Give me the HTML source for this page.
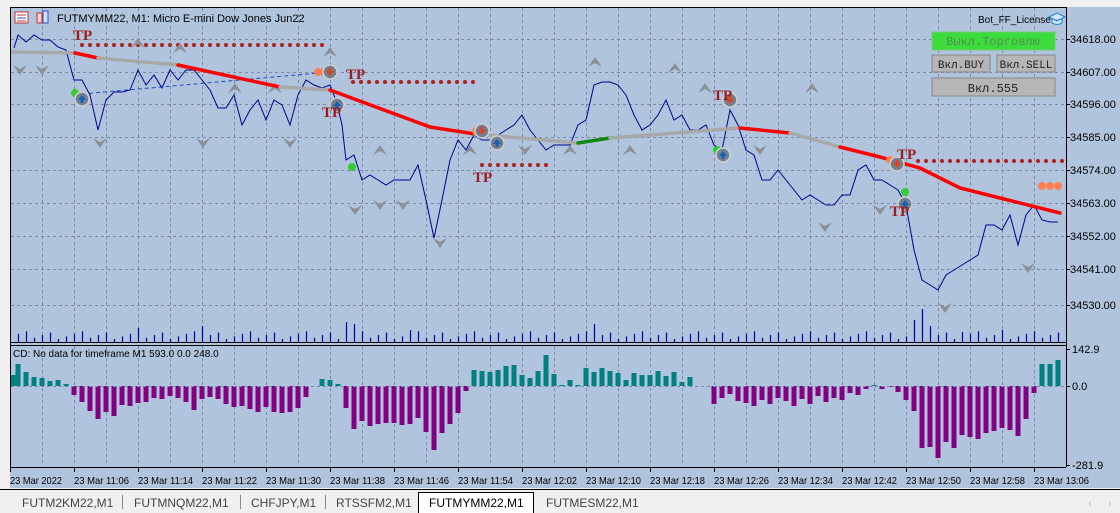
<!DOCTYPE html>
<html><head><meta charset="utf-8"><style>
html,body{margin:0;padding:0;width:1120px;height:513px;overflow:hidden;background:#f0f0f0}
svg{display:block}
text{font-family:"Liberation Sans",sans-serif;font-size:11px;fill:#000}
.t{font-size:10.5px}
</style></head><body>
<svg id="s" width="1120" height="513" xmlns="http://www.w3.org/2000/svg">
<rect x="0" y="0" width="1120" height="490" fill="#f0f0f0"/>
<rect x="10" y="7" width="1110" height="481" fill="#b0c4de"/>
<g id="grid" stroke="#7d8aa0" stroke-width="1" stroke-dasharray="3,3"></g>
<g id="vol" stroke="#0000b0" stroke-width="1.2"></g>
<g id="hist"></g>
<g id="mk"></g>
<g stroke="#000" fill="none" stroke-width="1">
<line x1="10.5" y1="7" x2="10.5" y2="467"/>
<line x1="10" y1="7.5" x2="1066" y2="7.5"/>
<line x1="1066.5" y1="7" x2="1066.5" y2="467"/>
<line x1="10" y1="342.5" x2="1066" y2="342.5"/>
<line x1="10" y1="345.5" x2="1066" y2="345.5"/>
<line x1="10" y1="467.5" x2="1066" y2="467.5"/>
</g>
<g id="ticks" stroke="#000"></g>
<text x="1070" y="43">34618.00</text>
<text x="1070" y="76">34607.00</text>
<text x="1070" y="108">34596.00</text>
<text x="1070" y="141">34585.00</text>
<text x="1070" y="174">34574.00</text>
<text x="1070" y="207">34563.00</text>
<text x="1070" y="240">34552.00</text>
<text x="1070" y="273">34541.00</text>
<text x="1070" y="309">34530.00</text>
<text x="1072" y="353">142.9</text>
<text x="1072" y="390">0.0</text>
<text x="1072" y="469">-281.9</text>
<g>
<text class="t" x="10" y="484" textLength="52" lengthAdjust="spacingAndGlyphs">23 Mar 2022</text>
<text class="t" x="74" y="484" textLength="55" lengthAdjust="spacingAndGlyphs">23 Mar 11:06</text>
<text class="t" x="138" y="484" textLength="55" lengthAdjust="spacingAndGlyphs">23 Mar 11:14</text>
<text class="t" x="202" y="484" textLength="55" lengthAdjust="spacingAndGlyphs">23 Mar 11:22</text>
<text class="t" x="266" y="484" textLength="55" lengthAdjust="spacingAndGlyphs">23 Mar 11:30</text>
<text class="t" x="330" y="484" textLength="55" lengthAdjust="spacingAndGlyphs">23 Mar 11:38</text>
<text class="t" x="394" y="484" textLength="55" lengthAdjust="spacingAndGlyphs">23 Mar 11:46</text>
<text class="t" x="458" y="484" textLength="55" lengthAdjust="spacingAndGlyphs">23 Mar 11:54</text>
<text class="t" x="522" y="484" textLength="55" lengthAdjust="spacingAndGlyphs">23 Mar 12:02</text>
<text class="t" x="586" y="484" textLength="55" lengthAdjust="spacingAndGlyphs">23 Mar 12:10</text>
<text class="t" x="650" y="484" textLength="55" lengthAdjust="spacingAndGlyphs">23 Mar 12:18</text>
<text class="t" x="714" y="484" textLength="55" lengthAdjust="spacingAndGlyphs">23 Mar 12:26</text>
<text class="t" x="778" y="484" textLength="55" lengthAdjust="spacingAndGlyphs">23 Mar 12:34</text>
<text class="t" x="842" y="484" textLength="55" lengthAdjust="spacingAndGlyphs">23 Mar 12:42</text>
<text class="t" x="906" y="484" textLength="55" lengthAdjust="spacingAndGlyphs">23 Mar 12:50</text>
<text class="t" x="970" y="484" textLength="55" lengthAdjust="spacingAndGlyphs">23 Mar 12:58</text>
<text class="t" x="1034" y="484" textLength="55" lengthAdjust="spacingAndGlyphs">23 Mar 13:06</text>
</g>
<rect x="15" y="12" width="13" height="11" fill="#fff" stroke="#c03030"/>
<line x1="17" y1="15" x2="26" y2="15" stroke="#c03030"/><line x1="17" y1="18" x2="26" y2="18" stroke="#3050c0"/><line x1="17" y1="21" x2="26" y2="21" stroke="#c03030"/>
<rect x="37" y="13" width="5" height="10" fill="#f8d0d0" stroke="#c03030"/><rect x="43" y="11" width="5" height="12" fill="#d0e0f8" stroke="#3050c0"/>
<text x="57" y="22">FUTMYMM22, M1:  Micro E-mini Dow Jones Jun22</text>
<text x="978" y="23" style="font-size:10px">Bot_FF_License</text>
<path d="M1049 17 l8 -4 l8 4 l-8 4z M1052 19 v4 q5 3 10 0 v-4" fill="#cfe6ff" stroke="#1a80d0"/>
<text x="13" y="357" style="font-size:10px">CD: No data for timeframe M1 593.0 0.0 248.0</text>
<rect x="932" y="32" width="123" height="18" fill="#3ddc3d" stroke="#7cc87c"/>
<text x="993" y="45" text-anchor="middle" style="font-family:'Liberation Mono','DejaVu Sans Mono',monospace;font-size:12px;fill:#4f8f4f">Выкл.Торговлю</text>
<rect x="932" y="55" width="58" height="17" fill="#b6b6b6" stroke="#888"/>
<text x="961" y="68" text-anchor="middle" style="font-family:'Liberation Mono',monospace;font-size:11px;fill:#222">Вкл.BUY</text>
<rect x="997" y="55" width="58" height="17" fill="#b6b6b6" stroke="#888"/>
<text x="1026" y="68" text-anchor="middle" style="font-family:'Liberation Mono',monospace;font-size:11px;fill:#222">Вкл.SELL</text>
<rect x="932" y="78" width="123" height="18" fill="#b6b6b6" stroke="#888"/>
<text x="993" y="92" text-anchor="middle" style="font-family:'Liberation Mono',monospace;font-size:12px;fill:#222">Вкл.555</text>
<g>
<text x="73" y="40" style="fill:#9b1c1c;font-family:'Liberation Serif',serif;font-weight:bold;font-size:15px">TP</text>
<text x="346" y="79" style="fill:#9b1c1c;font-family:'Liberation Serif',serif;font-weight:bold;font-size:15px">TP</text>
<text x="322" y="117" style="fill:#9b1c1c;font-family:'Liberation Serif',serif;font-weight:bold;font-size:15px">TP</text>
<text x="473" y="182" style="fill:#9b1c1c;font-family:'Liberation Serif',serif;font-weight:bold;font-size:15px">TP</text>
<text x="713" y="100" style="fill:#9b1c1c;font-family:'Liberation Serif',serif;font-weight:bold;font-size:15px">TP</text>
<text x="897" y="159" style="fill:#9b1c1c;font-family:'Liberation Serif',serif;font-weight:bold;font-size:15px">TP</text>
<text x="890" y="216" style="fill:#9b1c1c;font-family:'Liberation Serif',serif;font-weight:bold;font-size:15px">TP</text>
</g>
<rect x="0" y="489" width="1120" height="24" fill="#f0f0f0"/>
<line x1="0" y1="489.5" x2="1120" y2="489.5" stroke="#000"/>
<g>
<text x="22" y="507" style="font-size:12px;fill:#444">FUTM2KM22,M1</text>
<text x="134" y="507" style="font-size:12px;fill:#444">FUTMNQM22,M1</text>
<text x="251" y="507" style="font-size:12px;fill:#444">CHFJPY,M1</text>
<text x="336" y="507" style="font-size:12px;fill:#444">RTSSFM2,M1</text>
<text x="546" y="507" style="font-size:12px;fill:#444">FUTMESM22,M1</text>
</g>
<g stroke="#888"><line x1="122.5" y1="495" x2="122.5" y2="509"/><line x1="240.5" y1="495" x2="240.5" y2="509"/><line x1="325.5" y1="495" x2="325.5" y2="509"/></g>
<path d="M418.5 513 V492.5 H533.5 V513" fill="#fff" stroke="#000"/>
<text x="429" y="507" style="font-size:12px;fill:#000">FUTMYMM22,M1</text>
<text x="1088" y="507" style="fill:#bbb">‹</text><text x="1108" y="507" style="fill:#bbb">›</text>
</svg>
<script>
var NS="http://www.w3.org/2000/svg",S=document.getElementById('s');
function el(p,t,a){var e=document.createElementNS(NS,t);for(var k in a)e.setAttribute(k,a[k]);p.appendChild(e);return e;}
var G=document.getElementById('grid');
for(var x=42;x<1066;x+=32){el(G,'line',{x1:x+.5,y1:8,x2:x+.5,y2:342});el(G,'line',{x1:x+.5,y1:346,x2:x+.5,y2:467});}
[39,72,104,137,170,203,236,269,305].forEach(function(y){el(G,'line',{x1:11,y1:y+.5,x2:1066,y2:y+.5});});
var T=document.getElementById('ticks');
[39,72,104,137,170,203,236,269,305,349,386,465].forEach(function(y){el(T,'line',{x1:1066,y1:y+.5,x2:1070,y2:y+.5});});
for(var x=10;x<1066;x+=64)el(T,'line',{x1:x+.5,y1:467,x2:x+.5,y2:472});
var V=document.getElementById('vol'),spk={138:14,202:16,346:20,354:18,410:12,594:18,914:22,922:33,930:16,962:10,1002:12};
for(var i=2;i<=132;i++){var x=2+8*i;var h=spk[x]||(3+((i*37)%7)*1.3);el(V,'line',{x1:x+.5,y1:342,x2:x+.5,y2:342-h});}
var H=document.getElementById('hist');
var hv={13:11,18:22,26:14,34:9,42:8,50:5,58:6,66:2};
var neg1=[9,16,25,33,26,30,19,20,17,16,12,13,10,12,16,24,13,11,13,18,21,20,23,26,21,26,27,26,22,11];
neg1.forEach(function(d,j){hv[74+8*j]=-d;});
Object.assign(hv,{314:0,322:7,330:6,338:2,346:-22,354:-43,362:-35,370:-40,378:-38,386:-37,394:-37,402:-39,410:-38,418:-32,426:-46,434:-64,442:-47,450:-38,458:-27,466:-5,
474:16,482:15,490:14,498:16,506:20,514:21,522:11,530:8,538:15,546:31,554:12,562:1,570:6,578:1,586:18,594:14,602:18,610:15,618:13,626:6,634:13,642:11,650:11,658:15,666:10,674:14,682:4,690:9,698:0,706:0,
714:-18,722:-12,730:-8,738:-15,746:-17,754:-20,762:-14,770:-18,778:-12,786:-15,794:-20,802:-13,810:-18,818:-10,826:-16,834:-12,842:-14,850:-7,858:-9,866:-3,874:1,882:-3,890:-1,898:-6,906:-14,914:-25,922:-62,930:-61,938:-72,946:-56,954:-62,962:-49,970:-51,978:-53,986:-47,994:-45,1002:-42,1010:-44,1018:-50,1026:-33,1034:-7,1042:22,1050:22,1058:26});
for(var k in hv){var v=hv[k],x=+k;if(v>0)el(H,'rect',{x:x-2.5,y:386-v,width:5,height:v,fill:'#008080'});else if(v<0)el(H,'rect',{x:x-2.5,y:386,width:5,height:-v,fill:'#800080'});}
el(H,'line',{x1:11,y1:386.5,x2:1066,y2:386.5,stroke:'#7d8aa0','stroke-dasharray':'3,3'});
var M=document.getElementById('mk');
function dots(x1,x2,y){for(var x=x1;x<=x2;x+=8)el(M,'circle',{cx:x,cy:y,r:2,fill:'#b02020'});}
dots(82,325,45);dots(353,477,82);dots(482,548,165);dots(918,1062,161);
function chev(x,y,up){var d=up?'M'+(x-7)+' '+(y+5)+' L'+x+' '+(y-5)+' L'+(x+7)+' '+(y+5)+' L'+x+' '+(y+1)+'Z':'M'+(x-7)+' '+(y-5)+' L'+x+' '+(y+5)+' L'+(x+7)+' '+(y-5)+' L'+x+' '+(y-1)+'Z';el(M,'path',{d:d,fill:'#8a8f98'});}
[[138,43],[180,48],[330,52],[235,88],[275,88],[595,62],[675,68],[1040,68],[380,150],[470,150],[570,150],[630,150],[812,88],[705,88]].forEach(function(p){chev(p[0],p[1],true);});
[[20,70],[42,70],[100,143],[203,143],[290,143],[355,210],[380,205],[403,205],[440,243],[525,150],[825,227],[945,308],[1028,268],[880,210],[760,150]].forEach(function(p){chev(p[0],p[1],false);});
el(M,'line',{x1:82,y1:94,x2:330,y2:72,stroke:'#1f4fbf','stroke-dasharray':'4,3'});
var P=[14,48,18,35,26,42,34,35,42,40,50,40,58,47,66,50,74,80,82,80,90,95,98,130,106,100,114,92,122,92,130,90,138,70,146,85,154,75,162,88,170,70,178,80,186,70,194,70,202,80,210,90,218,108,226,108,234,95,242,125,250,110,258,100,266,120,274,100,282,105,290,125,298,95,306,80,314,85,322,88,330,85,334,95,338,108,342,125,346,160,354,155,362,180,370,175,378,180,386,185,394,180,402,180,410,180,418,165,426,200,434,238,442,200,450,160,458,140,466,150,474,135,482,140,490,140,498,135,506,130,514,125,522,115,530,130,538,140,546,150,554,145,562,145,570,145,578,125,586,120,594,85,602,82,610,82,618,85,626,95,634,115,642,130,650,125,658,115,666,100,674,120,682,115,690,130,698,130,706,125,714,145,722,150,730,110,738,125,746,150,754,155,762,180,770,180,778,170,786,180,794,190,802,200,810,195,818,200,826,205,834,205,842,195,850,195,858,170,866,165,874,180,882,180,890,185,898,190,906,205,914,250,922,280,930,285,938,290,946,275,954,270,962,265,970,260,978,255,986,225,994,225,1002,230,1010,215,1018,245,1026,215,1034,205,1042,220,1050,222,1058,222];
el(M,'polyline',{points:P.join(' '),fill:'none',stroke:'#00008b','stroke-width':1});
function seg(pts,c){el(M,'polyline',{points:pts.join(' '),fill:'none',stroke:c,'stroke-width':3.5,'stroke-linecap':'round'});}
seg([12,52,75,53],'#a8a8a8');seg([75,53,98,58],'#ff0000');seg([98,58,178,65],'#a8a8a8');seg([178,65,280,87],'#ff0000');seg([280,87,330,90],'#a8a8a8');
seg([330,90,430,127],'#ff0000');seg([430,127,475,134],'#ff0000');seg([475,134,578,143],'#a8a8a8');seg([578,143,610,138],'#118811');seg([610,138,740,128],'#a8a8a8');
seg([740,128,790,133],'#ff0000');seg([790,133,840,147],'#a8a8a8');seg([840,147,880,157],'#ff0000');seg([880,157,920,168,960,188,1000,198,1060,213],'#ff0000');
function circ(x,y,up){el(M,'circle',{cx:x,cy:y,r:7,fill:'#708090',stroke:'#d0d0d0','stroke-width':1.5});el(M,'path',{d:up?'M'+(x-4)+' '+(y+1)+' L'+x+' '+(y-4)+' L'+(x+4)+' '+(y+1)+' L'+(x+1.5)+' '+(y+1)+' V'+(y+4)+' H'+(x-1.5)+' V'+(y+1)+'Z':'M'+(x-4)+' '+(y-1)+' L'+x+' '+(y+4)+' L'+(x+4)+' '+(y-1)+' L'+(x+1.5)+' '+(y-1)+' V'+(y-4)+' H'+(x-1.5)+' V'+(y-1)+'Z',fill:up?'#1a5fb4':'#e04020'});}
[[75,93,'#33cc33'],[352,167,'#33cc33'],[905,192,'#33cc33'],[717,150,'#33cc33'],[318,72,'#ff7f50'],[324,72,'#ff7f50'],[1042,186,'#ff7f50'],[1050,186,'#ff7f50'],[1058,186,'#ff7f50'],[890,160,'#ff7f50'],[476,131,'#ff7f50']].forEach(function(p){el(M,'circle',{cx:p[0],cy:p[1],r:4,fill:p[2]});});
circ(82,99,true);circ(330,72,false);circ(337,105,true);circ(482,131,false);circ(497,143,true);circ(730,100,false);circ(723,155,true);circ(897,164,false);circ(905,204,true);
</script>
</body></html>
